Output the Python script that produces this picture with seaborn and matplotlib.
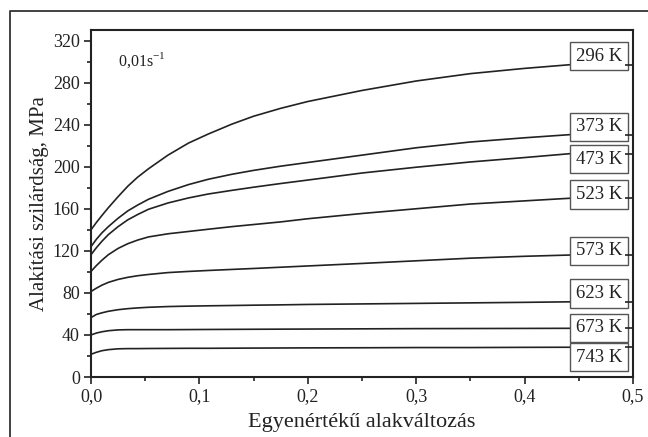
import matplotlib
matplotlib.use("Agg")
import matplotlib.pyplot as plt
import matplotlib.ticker as mticker
from matplotlib.lines import Line2D
import seaborn as sns
import pandas as pd

# ---- data ----
strain = [0, 0.005, 0.01, 0.016, 0.025, 0.034, 0.043, 0.053, 0.071, 0.09, 0.108,
          0.13, 0.15, 0.175, 0.2, 0.25, 0.3, 0.35, 0.4, 0.442]
s296 = [140, 147, 153.5, 161, 171.5, 181.5, 190, 198, 211, 222.5, 231,
        240.5, 248, 255.5, 262, 272.5, 281.5, 288.5, 293.5, 297]
s373 = [124, 131, 137, 143, 151, 158, 163.5, 169, 176.5, 183, 188,
        192.8, 196.5, 200.5, 204, 211, 218, 223.5, 227.5, 230.5]
s473 = [116.3, 123, 129, 135.4, 143, 149.5, 154.5, 159.5, 165.5, 170.3, 174,
        177.5, 180.5, 184, 187.3, 194, 199.5, 204.5, 208.7, 212.4]
s523 = [100.4, 106, 111, 116.3, 122.3, 126.8, 130.2, 133.2, 136.2, 138.4, 140.5,
        143, 145, 147.5, 150.5, 155.5, 160, 164.5, 167.5, 170]
s573 = [81.3, 84.5, 87.3, 90, 92.8, 94.8, 96.3, 97.5, 99.3, 100.4, 101.3,
        102.3, 103.2, 104.4, 105.6, 108, 110.5, 113, 114.8, 116]
s623 = [56.5, 59.5, 61, 62.5, 64, 65, 65.7, 66.3, 67, 67.4, 67.7,
        68, 68.3, 68.6, 69, 69.5, 70, 70.5, 71, 71.5]
s673 = [40, 41.8, 43, 44, 44.8, 45, 45, 45, 45, 45.1, 45.2,
        45.3, 45.4, 45.5, 45.6, 45.8, 46, 46.1, 46.2, 46.3]
s743 = [21.6, 23.5, 25, 26, 26.8, 27, 27, 27.1, 27.2, 27.3, 27.3,
        27.4, 27.5, 27.6, 27.7, 27.8, 28, 28, 28.2, 28.3]
temps = ["296 K", "373 K", "473 K", "523 K", "573 K", "623 K", "673 K", "743 K"]
label_y = [305, 238, 207, 173.6, 120, 79.5, 46.7, 19]
x_ticks = [0.0, 0.1, 0.2, 0.3, 0.4, 0.5]
x_ticklabels = ["0,0", "0,1", "0,2", "0,3", "0,4", "0,5"]
y_ticks = [0, 40, 80, 120, 160, 200, 240, 280, 320]
rate_text = "0,01s$^{\\mathregular{-1}}$"
xlabel = "Egyenértékű alakváltozás"
ylabel = "Alakítási szilárdság, MPa"

series = [s296, s373, s473, s523, s573, s623, s673, s743]
rows = []
for t, vals in zip(temps, series):
    for xv, yv in zip(strain, vals):
        rows.append({"strain": xv, "stress": yv, "T": t})
df = pd.DataFrame(rows)

sns.set_style("ticks")
plt.rcParams["font.family"] = ["Liberation Serif", "DejaVu Serif"]
plt.rcParams["mathtext.fontset"] = "custom"
plt.rcParams["mathtext.rm"] = "Liberation Serif"

ink = "#222222"
fig = plt.figure(figsize=(6.48, 4.37), dpi=100)
ax = fig.add_axes([91 / 648, 1 - 377 / 437, (633 - 91) / 648, (377 - 30) / 437])

# outer frame (left and top edges visible)
fx = 9.5 / 648
fy = 1 - 11 / 437
fig.add_artist(Line2D([fx, fx, 1.0], [0.0, fy, fy], transform=fig.transFigure,
                      color="#333333", linewidth=1.3))

sns.lineplot(data=df, x="strain", y="stress", hue="T", hue_order=temps,
             palette=[ink] * len(temps), linewidth=1.2, legend=False, ax=ax)

ax.set_xlim(0, 0.5)
ax.set_ylim(0, 330)
ax.set_xticks(x_ticks)
ax.set_xticklabels(x_ticklabels)
ax.set_yticks(y_ticks)
ax.xaxis.set_minor_locator(mticker.MultipleLocator(0.05))
ax.yaxis.set_minor_locator(mticker.MultipleLocator(20))
ax.tick_params(which="major", direction="out", length=5, width=1.2, color=ink,
               labelsize=13, labelcolor=ink, pad=3)
ax.tick_params(which="minor", direction="out", length=3, width=1.2, color=ink)
for sp in ax.spines.values():
    sp.set_linewidth(1.5)
    sp.set_color(ink)

ax.set_xlabel(xlabel, fontsize=16, color=ink, labelpad=6)
ax.set_ylabel(ylabel, fontsize=15, color=ink, labelpad=3)

# right-side short ticks at curve ends
ax2 = ax.twinx()
ax2.set_ylim(ax.get_ylim())
ax2.set_yticks([v[-1] for v in series])
ax2.tick_params(axis="y", direction="in", length=6, width=1.2, color=ink,
                labelright=False)
for sp in ax2.spines.values():
    sp.set_visible(False)

for t, ly in zip(temps, label_y):
    ax.text(0.4685, ly, t, ha="center", va="center", fontsize=13.5, color=ink,
            zorder=5,
            bbox=dict(boxstyle="square,pad=0.3", fc="white", ec="#555555", lw=1.0))

ax.text(0.05, 0.885, rate_text, transform=ax.transAxes, fontsize=11.5, color=ink,
        ha="left", va="bottom")

fig.savefig("out.png", dpi=100)
